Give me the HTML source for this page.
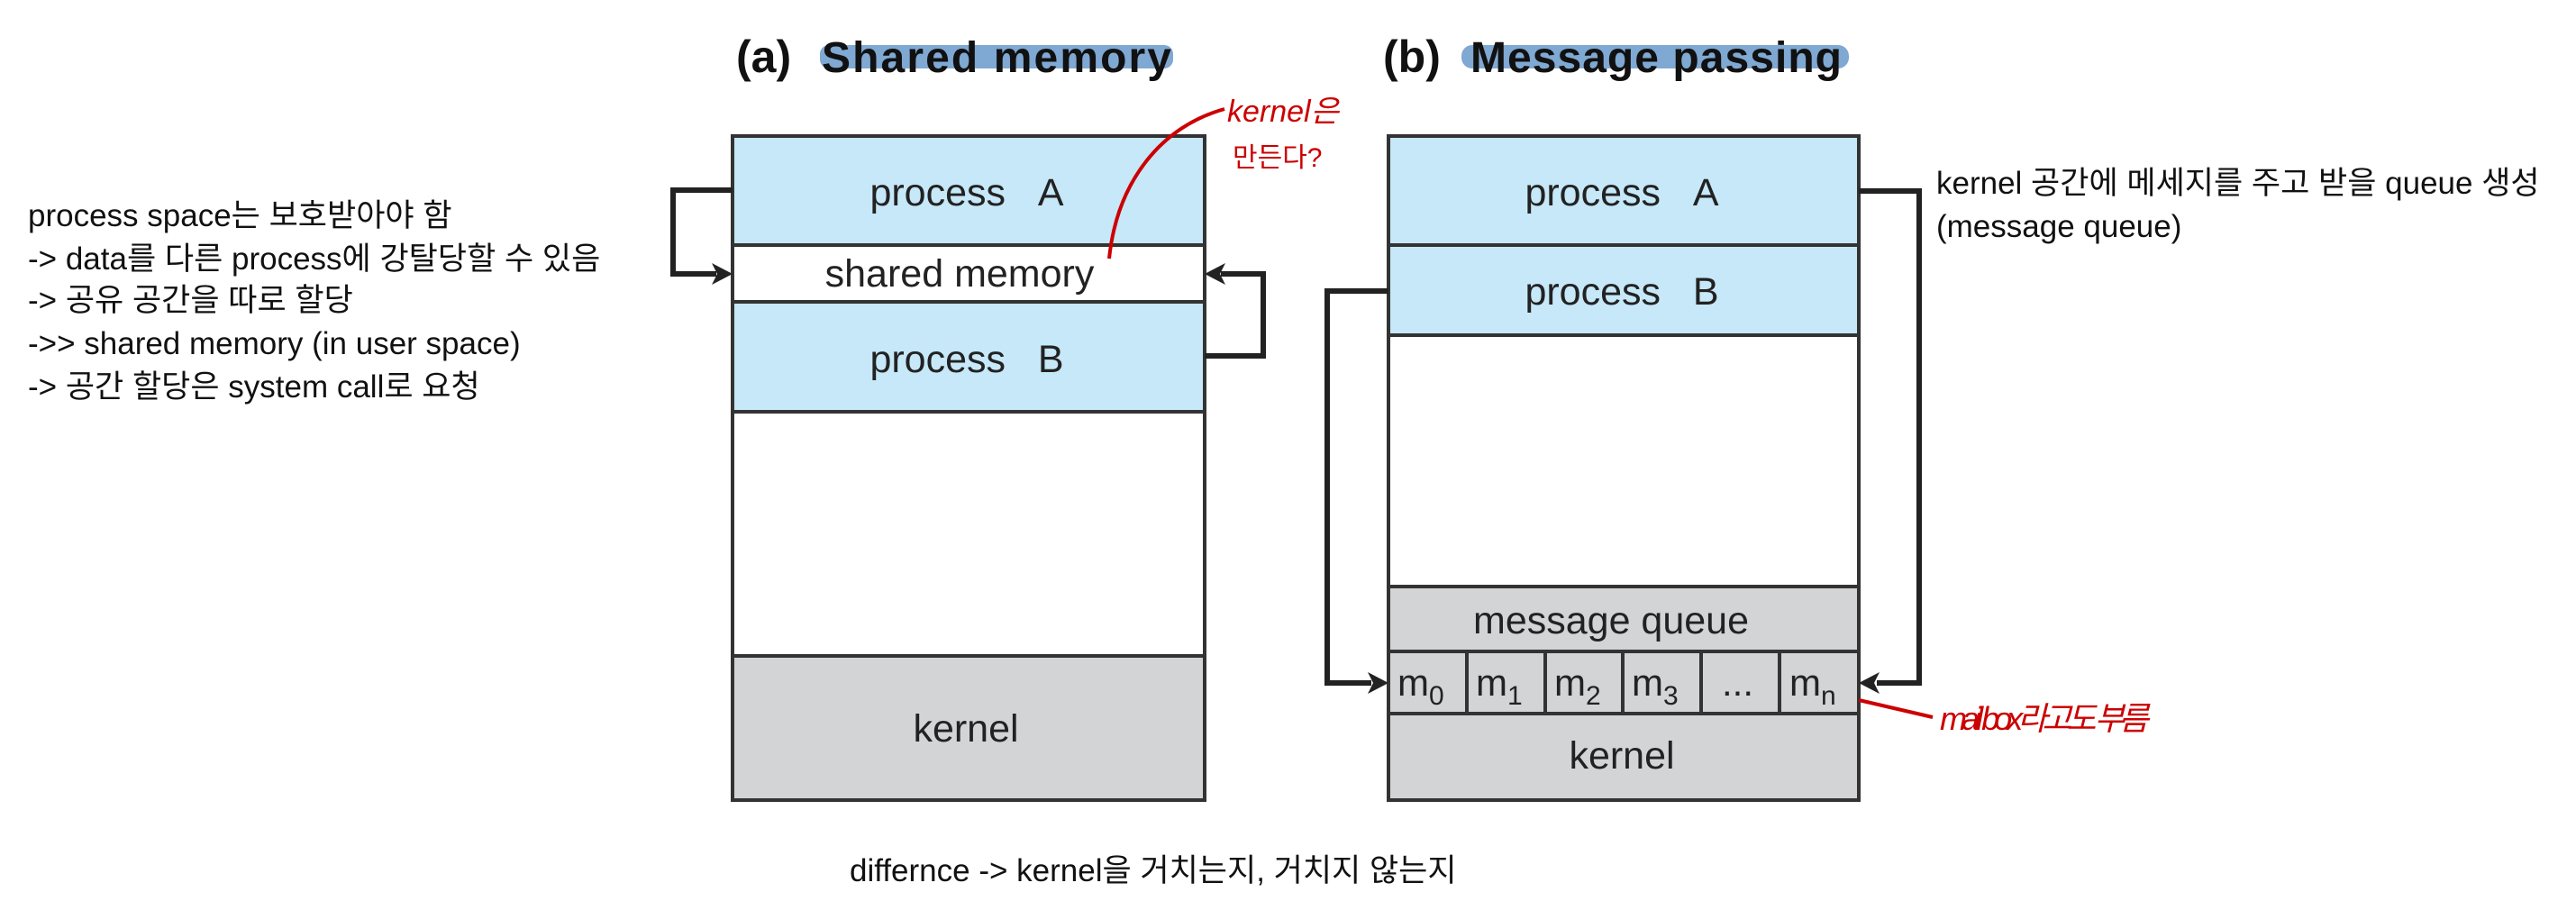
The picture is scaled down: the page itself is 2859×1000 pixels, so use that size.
<!DOCTYPE html>
<html><head><meta charset="utf-8"><style>
html,body{margin:0;padding:0;background:#fff;}
svg{display:block;}
text{font-family:"Liberation Sans","Noto Sans CJK KR",sans-serif;}
</style></head><body>
<svg width="2859" height="1000" viewBox="0 0 2859 1000" xmlns="http://www.w3.org/2000/svg">
<!-- titles -->
<rect x="910" y="50" width="392" height="26" rx="10" fill="#7fa8d2"/>
<rect x="1622" y="50" width="430" height="26" rx="12" fill="#7fa8d2"/>
<text x="817" y="80" font-size="50" font-weight="bold" fill="#111">(a)</text>
<text x="912" y="80" font-size="48" font-weight="bold" fill="#111" textLength="388">Shared memory</text>
<text x="1535" y="80" font-size="50" font-weight="bold" fill="#111">(b)</text>
<text x="1632" y="80" font-size="48" font-weight="bold" fill="#111" textLength="412">Message passing</text>

<!-- Box a -->
<g stroke="#333" stroke-width="4">
<rect x="813" y="151" width="524" height="121" fill="#c6e8f8"/>
<rect x="813" y="272" width="524" height="63" fill="#fff"/>
<rect x="813" y="335" width="524" height="122" fill="#c6e8f8"/>
<rect x="813" y="457" width="524" height="271" fill="#fff"/>
<rect x="813" y="728" width="524" height="160" fill="#d3d4d6"/>
</g>
<g font-size="43" fill="#222" text-anchor="middle">
<text x="1073" y="228">process&#160;&#160;&#160;A</text>
<text x="1065" y="318">shared memory</text>
<text x="1073" y="413">process&#160;&#160;&#160;B</text>
<text x="1072" y="823">kernel</text>
</g>
<!-- arrows a -->
<g stroke="#222" stroke-width="6" fill="none">
<polyline points="813,211 747,211 747,304 795,304"/>
<polyline points="1337,395 1402,395 1402,304 1355,304"/>
</g>
<polygon points="813,304 790,292 796,304 790,316" fill="#222"/>
<polygon points="1337,304 1360,292 1354,304 1360,316" fill="#222"/>

<!-- Box b -->
<g stroke="#333" stroke-width="4">
<rect x="1541" y="151" width="522" height="121" fill="#c6e8f8"/>
<rect x="1541" y="272" width="522" height="100" fill="#c6e8f8"/>
<rect x="1541" y="372" width="522" height="279" fill="#fff"/>
<rect x="1541" y="651" width="522" height="72" fill="#d3d4d6"/>
<rect x="1541" y="723" width="522" height="69" fill="#d3d4d6"/>
<rect x="1541" y="792" width="522" height="96" fill="#d3d4d6"/>
<line x1="1628" y1="723" x2="1628" y2="792"/>
<line x1="1715" y1="723" x2="1715" y2="792"/>
<line x1="1801" y1="723" x2="1801" y2="792"/>
<line x1="1888" y1="723" x2="1888" y2="792"/>
<line x1="1975" y1="723" x2="1975" y2="792"/>
</g>
<g font-size="43" fill="#222" text-anchor="middle">
<text x="1800" y="228">process&#160;&#160;&#160;A</text>
<text x="1800" y="338">process&#160;&#160;&#160;B</text>
<text x="1788" y="703">message queue</text>
<text x="1800" y="853">kernel</text>
</g>
<g font-size="42" fill="#222">
<text x="1551" y="772">m<tspan font-size="30" dy="10">0</tspan></text>
<text x="1638" y="772">m<tspan font-size="30" dy="10">1</tspan></text>
<text x="1725" y="772">m<tspan font-size="30" dy="10">2</tspan></text>
<text x="1811" y="772">m<tspan font-size="30" dy="10">3</tspan></text>
<text x="1911" y="772">...</text>
<text x="1986" y="772">m<tspan font-size="30" dy="10">n</tspan></text>
</g>
<!-- arrows b -->
<g stroke="#222" stroke-width="6" fill="none">
<polyline points="2063,212 2130,212 2130,758 2083,758"/>
<polyline points="1541,323 1473,323 1473,758 1522,758"/>
</g>
<polygon points="1541,758 1518,746 1524,758 1518,770" fill="#222"/>
<polygon points="2063,758 2086,746 2080,758 2086,770" fill="#222"/>

<!-- red annotations -->
<path d="M1231,287 C1240,200 1290,140 1359,121" stroke="#cc0000" stroke-width="4" fill="none"/>
<text x="1362" y="135" font-size="34" fill="#cc0000" font-style="italic">kernel은</text>
<text x="1368" y="185" font-size="30" fill="#cc0000">만든다?</text>
<line x1="2063" y1="777" x2="2145" y2="796" stroke="#cc0000" stroke-width="4"/>
<text x="2153" y="810" font-size="36" fill="#cc0000" font-style="italic" textLength="232">mail box라고도 부름</text>

<!-- left notes -->
<g font-size="35" fill="#111">
<text x="31" y="251">process space는 보호받아야 함</text>
<text x="31" y="299">-&gt; data를 다른 process에 강탈당할 수 있음</text>
<text x="31" y="345">-&gt; 공유 공간을 따로 할당</text>
<text x="31" y="393">-&gt;&gt; shared memory (in user space)</text>
<text x="31" y="441">-&gt; 공간 할당은 system call로 요청</text>
</g>
<g font-size="35" fill="#111">
<text x="2149" y="215">kernel 공간에 메세지를 주고 받을 queue 생성</text>
<text x="2149" y="263">(message queue)</text>
</g>
<text x="943" y="978" font-size="35" fill="#111">differnce -&gt; kernel을 거치는지, 거치지 않는지</text>
</svg>
</body></html>
